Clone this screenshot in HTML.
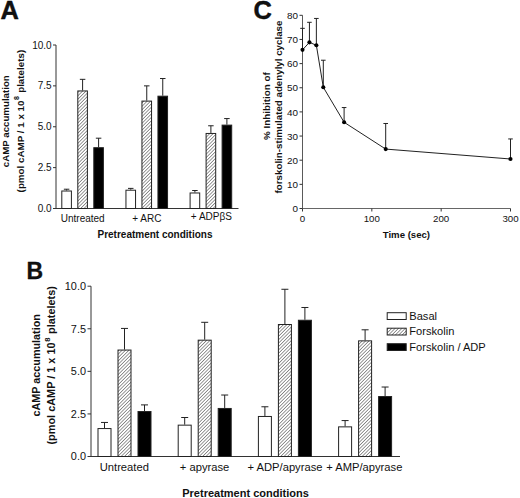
<!DOCTYPE html>
<html><head><meta charset="utf-8"><style>
html,body{margin:0;padding:0;background:#fff;}
svg{display:block;}
text{font-family:"Liberation Sans", sans-serif;fill:#111;}
</style></head><body>
<svg width="520" height="498" viewBox="0 0 520 498">
<defs>
<pattern id="hatch" patternUnits="userSpaceOnUse" width="2.4" height="2.4" patternTransform="rotate(45)">
<rect width="2.4" height="2.4" fill="#fff"/>
<line x1="0" y1="0" x2="0" y2="2.4" stroke="#333" stroke-width="1.0"/>
</pattern>
</defs>
<rect width="520" height="498" fill="#fff"/>
<line x1="56" y1="45" x2="56" y2="208.5" stroke="#333" stroke-width="1"/>
<line x1="56" y1="208.5" x2="238.5" y2="208.5" stroke="#333" stroke-width="1"/>
<line x1="53" y1="208.5" x2="56" y2="208.5" stroke="#333" stroke-width="1"/>
<text x="51.6" y="212.1" font-size="10" text-anchor="end" font-weight="normal" >0.0</text>
<line x1="53" y1="167.62" x2="56" y2="167.62" stroke="#333" stroke-width="1"/>
<text x="51.6" y="171.22" font-size="10" text-anchor="end" font-weight="normal" >2.5</text>
<line x1="53" y1="126.75" x2="56" y2="126.75" stroke="#333" stroke-width="1"/>
<text x="51.6" y="130.35" font-size="10" text-anchor="end" font-weight="normal" >5.0</text>
<line x1="53" y1="85.87" x2="56" y2="85.87" stroke="#333" stroke-width="1"/>
<text x="51.6" y="89.47" font-size="10" text-anchor="end" font-weight="normal" >7.5</text>
<line x1="53" y1="45" x2="56" y2="45" stroke="#333" stroke-width="1"/>
<text x="51.6" y="48.6" font-size="10" text-anchor="end" font-weight="normal" >10.0</text>
<line x1="66.6" y1="189.21" x2="66.6" y2="190.51" stroke="#222" stroke-width="1"/>
<line x1="63.85" y1="189.21" x2="69.35" y2="189.21" stroke="#222" stroke-width="1"/>
<rect x="61.8" y="191.01" width="9.6" height="17.49" fill="#fff" stroke="#222" stroke-width="1"/>
<line x1="82.6" y1="79.33" x2="82.6" y2="90.45" stroke="#222" stroke-width="1"/>
<line x1="79.85" y1="79.33" x2="85.35" y2="79.33" stroke="#222" stroke-width="1"/>
<rect x="77.8" y="90.95" width="9.6" height="117.55" fill="url(#hatch)" stroke="#222" stroke-width="1"/>
<line x1="98.6" y1="138.19" x2="98.6" y2="147.19" stroke="#222" stroke-width="1"/>
<line x1="95.85" y1="138.19" x2="101.35" y2="138.19" stroke="#222" stroke-width="1"/>
<rect x="93.8" y="147.69" width="9.6" height="60.81" fill="#000" stroke="#222" stroke-width="1"/>
<line x1="130.75" y1="188.39" x2="130.75" y2="189.7" stroke="#222" stroke-width="1"/>
<line x1="128" y1="188.39" x2="133.5" y2="188.39" stroke="#222" stroke-width="1"/>
<rect x="125.95" y="190.2" width="9.6" height="18.3" fill="#fff" stroke="#222" stroke-width="1"/>
<line x1="146.75" y1="85.87" x2="146.75" y2="100.59" stroke="#222" stroke-width="1"/>
<line x1="144" y1="85.87" x2="149.5" y2="85.87" stroke="#222" stroke-width="1"/>
<rect x="141.95" y="101.09" width="9.6" height="107.41" fill="url(#hatch)" stroke="#222" stroke-width="1"/>
<line x1="162.75" y1="78.52" x2="162.75" y2="95.68" stroke="#222" stroke-width="1"/>
<line x1="160" y1="78.52" x2="165.5" y2="78.52" stroke="#222" stroke-width="1"/>
<rect x="157.95" y="96.18" width="9.6" height="112.32" fill="#000" stroke="#222" stroke-width="1"/>
<line x1="194.9" y1="190.51" x2="194.9" y2="192.48" stroke="#222" stroke-width="1"/>
<line x1="192.15" y1="190.51" x2="197.65" y2="190.51" stroke="#222" stroke-width="1"/>
<rect x="190.1" y="192.98" width="9.6" height="15.52" fill="#fff" stroke="#222" stroke-width="1"/>
<line x1="210.9" y1="125.77" x2="210.9" y2="132.96" stroke="#222" stroke-width="1"/>
<line x1="208.15" y1="125.77" x2="213.65" y2="125.77" stroke="#222" stroke-width="1"/>
<rect x="206.1" y="133.46" width="9.6" height="75.04" fill="url(#hatch)" stroke="#222" stroke-width="1"/>
<line x1="226.9" y1="118.57" x2="226.9" y2="124.62" stroke="#222" stroke-width="1"/>
<line x1="224.15" y1="118.57" x2="229.65" y2="118.57" stroke="#222" stroke-width="1"/>
<rect x="222.1" y="125.12" width="9.6" height="83.38" fill="#000" stroke="#222" stroke-width="1"/>
<text x="82.7" y="221.5" font-size="10" text-anchor="middle" font-weight="normal" >Untreated</text>
<text x="146.8" y="221.5" font-size="10" text-anchor="middle" font-weight="normal" >+ ARC</text>
<text x="211.4" y="219.5" font-size="10" text-anchor="middle" font-weight="normal" >+ ADP&#946;S</text>
<text x="155" y="238" font-size="10" text-anchor="middle" font-weight="bold" >Pretreatment conditions</text>
<g transform="translate(8.8,121.2) rotate(-90)"><text x="0" y="0" font-size="9.7" font-weight="bold" text-anchor="middle">cAMP accumulation</text></g>
<g transform="translate(24.1,121.1) rotate(-90)"><text x="0" y="0" font-size="9.8" font-weight="bold" text-anchor="middle">(pmol cAMP / 1 x 10<tspan font-size="7" dy="-5.0" dx="0.5">8</tspan><tspan dy="5.0" dx="0.6"> platelets)</tspan></text></g>
<text x="0.6" y="18.9" font-size="25.4" text-anchor="start" font-weight="bold" stroke="#000" stroke-width="0.4">A</text>
<line x1="91" y1="286.2" x2="91" y2="456.5" stroke="#333" stroke-width="1"/>
<line x1="91" y1="456.5" x2="400" y2="456.5" stroke="#333" stroke-width="1"/>
<line x1="87.5" y1="456.5" x2="91" y2="456.5" stroke="#333" stroke-width="1"/>
<text x="86" y="460.4" font-size="10.9" text-anchor="end" font-weight="normal" >0.0</text>
<line x1="87.5" y1="413.93" x2="91" y2="413.93" stroke="#333" stroke-width="1"/>
<text x="86" y="417.82" font-size="10.9" text-anchor="end" font-weight="normal" >2.5</text>
<line x1="87.5" y1="371.35" x2="91" y2="371.35" stroke="#333" stroke-width="1"/>
<text x="86" y="375.25" font-size="10.9" text-anchor="end" font-weight="normal" >5.0</text>
<line x1="87.5" y1="328.77" x2="91" y2="328.77" stroke="#333" stroke-width="1"/>
<text x="86" y="332.67" font-size="10.9" text-anchor="end" font-weight="normal" >7.5</text>
<line x1="87.5" y1="286.2" x2="91" y2="286.2" stroke="#333" stroke-width="1"/>
<text x="86" y="290.1" font-size="10.9" text-anchor="end" font-weight="normal" >10.0</text>
<line x1="104.5" y1="422.44" x2="104.5" y2="428.06" stroke="#222" stroke-width="1"/>
<line x1="101" y1="422.44" x2="108" y2="422.44" stroke="#222" stroke-width="1"/>
<rect x="98" y="428.56" width="13" height="27.94" fill="#fff" stroke="#222" stroke-width="1"/>
<line x1="124.5" y1="328.43" x2="124.5" y2="349.55" stroke="#222" stroke-width="1"/>
<line x1="121" y1="328.43" x2="128" y2="328.43" stroke="#222" stroke-width="1"/>
<rect x="118" y="350.05" width="13" height="106.45" fill="url(#hatch)" stroke="#222" stroke-width="1"/>
<line x1="144.5" y1="404.9" x2="144.5" y2="411.03" stroke="#222" stroke-width="1"/>
<line x1="141" y1="404.9" x2="148" y2="404.9" stroke="#222" stroke-width="1"/>
<rect x="138" y="411.53" width="13" height="44.97" fill="#000" stroke="#222" stroke-width="1"/>
<line x1="184.7" y1="417.5" x2="184.7" y2="424.65" stroke="#222" stroke-width="1"/>
<line x1="181.2" y1="417.5" x2="188.2" y2="417.5" stroke="#222" stroke-width="1"/>
<rect x="178.2" y="425.15" width="13" height="31.35" fill="#fff" stroke="#222" stroke-width="1"/>
<line x1="204.7" y1="322.3" x2="204.7" y2="339.67" stroke="#222" stroke-width="1"/>
<line x1="201.2" y1="322.3" x2="208.2" y2="322.3" stroke="#222" stroke-width="1"/>
<rect x="198.2" y="340.17" width="13" height="116.33" fill="url(#hatch)" stroke="#222" stroke-width="1"/>
<line x1="224.7" y1="395.02" x2="224.7" y2="407.96" stroke="#222" stroke-width="1"/>
<line x1="221.2" y1="395.02" x2="228.2" y2="395.02" stroke="#222" stroke-width="1"/>
<rect x="218.2" y="408.46" width="13" height="48.04" fill="#000" stroke="#222" stroke-width="1"/>
<line x1="264.9" y1="406.77" x2="264.9" y2="415.97" stroke="#222" stroke-width="1"/>
<line x1="261.4" y1="406.77" x2="268.4" y2="406.77" stroke="#222" stroke-width="1"/>
<rect x="258.4" y="416.47" width="13" height="40.03" fill="#fff" stroke="#222" stroke-width="1"/>
<line x1="284.9" y1="289.27" x2="284.9" y2="324.01" stroke="#222" stroke-width="1"/>
<line x1="281.4" y1="289.27" x2="288.4" y2="289.27" stroke="#222" stroke-width="1"/>
<rect x="278.4" y="324.51" width="13" height="131.99" fill="url(#hatch)" stroke="#222" stroke-width="1"/>
<line x1="304.9" y1="307.49" x2="304.9" y2="319.75" stroke="#222" stroke-width="1"/>
<line x1="301.4" y1="307.49" x2="308.4" y2="307.49" stroke="#222" stroke-width="1"/>
<rect x="298.4" y="320.25" width="13" height="136.25" fill="#000" stroke="#222" stroke-width="1"/>
<line x1="345.1" y1="420.57" x2="345.1" y2="426.36" stroke="#222" stroke-width="1"/>
<line x1="341.6" y1="420.57" x2="348.6" y2="420.57" stroke="#222" stroke-width="1"/>
<rect x="338.6" y="426.86" width="13" height="29.64" fill="#fff" stroke="#222" stroke-width="1"/>
<line x1="365.1" y1="329.8" x2="365.1" y2="340.36" stroke="#222" stroke-width="1"/>
<line x1="361.6" y1="329.8" x2="368.6" y2="329.8" stroke="#222" stroke-width="1"/>
<rect x="358.6" y="340.86" width="13" height="115.64" fill="url(#hatch)" stroke="#222" stroke-width="1"/>
<line x1="385.1" y1="387.02" x2="385.1" y2="396.04" stroke="#222" stroke-width="1"/>
<line x1="381.6" y1="387.02" x2="388.6" y2="387.02" stroke="#222" stroke-width="1"/>
<rect x="378.6" y="396.54" width="13" height="59.96" fill="#000" stroke="#222" stroke-width="1"/>
<text x="124.3" y="470.6" font-size="11.2" text-anchor="middle" font-weight="normal" >Untreated</text>
<text x="204.6" y="470.6" font-size="11.2" text-anchor="middle" font-weight="normal" >+ apyrase</text>
<text x="285" y="470.6" font-size="11.2" text-anchor="middle" font-weight="normal" >+ ADP/apyrase</text>
<text x="364.3" y="470.6" font-size="11.2" text-anchor="middle" font-weight="normal" >+ AMP/apyrase</text>
<text x="245.5" y="496.5" font-size="11" text-anchor="middle" font-weight="bold" >Pretreatment conditions</text>
<g transform="translate(39.5,365.3) rotate(-90)"><text x="0" y="0" font-size="10.8" font-weight="bold" text-anchor="middle">cAMP accumulation</text></g>
<g transform="translate(55.1,365.3) rotate(-90)"><text x="0" y="0" font-size="10.9" font-weight="bold" text-anchor="middle">(pmol cAMP / 1 x 10<tspan font-size="7.6" dy="-5.5" dx="0.6">8</tspan><tspan dy="5.5" dx="0.7"> platelets)</tspan></text></g>
<text x="26.4" y="278.7" font-size="23" text-anchor="start" font-weight="bold" stroke="#000" stroke-width="0.3">B</text>
<rect x="387.2" y="312.7" width="19" height="6.8" fill="#fff" stroke="#222" stroke-width="1"/>
<text x="409.3" y="319.7" font-size="11.1" text-anchor="start" font-weight="normal" >Basal</text>
<rect x="387.2" y="328.2" width="19" height="6.8" fill="url(#hatch)" stroke="#222" stroke-width="1"/>
<text x="409.3" y="335.2" font-size="11.1" text-anchor="start" font-weight="normal" >Forskolin</text>
<rect x="387.2" y="343.7" width="19" height="6.8" fill="#000" stroke="#222" stroke-width="1"/>
<text x="409.3" y="350.7" font-size="11.1" text-anchor="start" font-weight="normal" >Forskolin / ADP</text>
<line x1="302.5" y1="15.3" x2="302.5" y2="208.5" stroke="#5a5a5a" stroke-width="1"/>
<line x1="302.5" y1="208.5" x2="510.5" y2="208.5" stroke="#666" stroke-width="1"/>
<line x1="299.5" y1="208.5" x2="302.5" y2="208.5" stroke="#333" stroke-width="1"/>
<text x="298.1" y="212.1" font-size="9.9" text-anchor="end" font-weight="normal" >0</text>
<line x1="299.5" y1="184.35" x2="302.5" y2="184.35" stroke="#333" stroke-width="1"/>
<text x="298.1" y="187.95" font-size="9.9" text-anchor="end" font-weight="normal" >10</text>
<line x1="299.5" y1="160.2" x2="302.5" y2="160.2" stroke="#333" stroke-width="1"/>
<text x="298.1" y="163.8" font-size="9.9" text-anchor="end" font-weight="normal" >20</text>
<line x1="299.5" y1="136.05" x2="302.5" y2="136.05" stroke="#333" stroke-width="1"/>
<text x="298.1" y="139.65" font-size="9.9" text-anchor="end" font-weight="normal" >30</text>
<line x1="299.5" y1="111.9" x2="302.5" y2="111.9" stroke="#333" stroke-width="1"/>
<text x="298.1" y="115.5" font-size="9.9" text-anchor="end" font-weight="normal" >40</text>
<line x1="299.5" y1="87.75" x2="302.5" y2="87.75" stroke="#333" stroke-width="1"/>
<text x="298.1" y="91.35" font-size="9.9" text-anchor="end" font-weight="normal" >50</text>
<line x1="299.5" y1="63.6" x2="302.5" y2="63.6" stroke="#333" stroke-width="1"/>
<text x="298.1" y="67.2" font-size="9.9" text-anchor="end" font-weight="normal" >60</text>
<line x1="299.5" y1="39.45" x2="302.5" y2="39.45" stroke="#333" stroke-width="1"/>
<text x="298.1" y="43.05" font-size="9.9" text-anchor="end" font-weight="normal" >70</text>
<line x1="299.5" y1="15.3" x2="302.5" y2="15.3" stroke="#333" stroke-width="1"/>
<text x="298.1" y="18.9" font-size="9.9" text-anchor="end" font-weight="normal" >80</text>
<line x1="302.5" y1="208.5" x2="302.5" y2="211.5" stroke="#333" stroke-width="1"/>
<text x="302.5" y="221.6" font-size="9.7" text-anchor="middle" font-weight="normal" >0</text>
<line x1="371.83" y1="208.5" x2="371.83" y2="211.5" stroke="#333" stroke-width="1"/>
<text x="371.83" y="221.6" font-size="9.7" text-anchor="middle" font-weight="normal" >100</text>
<line x1="441.17" y1="208.5" x2="441.17" y2="211.5" stroke="#333" stroke-width="1"/>
<text x="441.17" y="221.6" font-size="9.7" text-anchor="middle" font-weight="normal" >200</text>
<line x1="510.5" y1="208.5" x2="510.5" y2="211.5" stroke="#333" stroke-width="1"/>
<text x="510.5" y="221.6" font-size="9.7" text-anchor="middle" font-weight="normal" >300</text>
<line x1="302.5" y1="28.34" x2="302.5" y2="49.83" stroke="#222" stroke-width="1"/>
<line x1="300.2" y1="28.34" x2="304.8" y2="28.34" stroke="#222" stroke-width="1"/>
<line x1="309.43" y1="22.3" x2="309.43" y2="42.35" stroke="#222" stroke-width="1"/>
<line x1="307.13" y1="22.3" x2="311.73" y2="22.3" stroke="#222" stroke-width="1"/>
<line x1="316.37" y1="18.44" x2="316.37" y2="45.25" stroke="#222" stroke-width="1"/>
<line x1="314.07" y1="18.44" x2="318.67" y2="18.44" stroke="#222" stroke-width="1"/>
<line x1="323.3" y1="60.22" x2="323.3" y2="87.27" stroke="#222" stroke-width="1"/>
<line x1="321" y1="60.22" x2="325.6" y2="60.22" stroke="#222" stroke-width="1"/>
<line x1="344.1" y1="107.55" x2="344.1" y2="122.28" stroke="#222" stroke-width="1"/>
<line x1="341.8" y1="107.55" x2="346.4" y2="107.55" stroke="#222" stroke-width="1"/>
<line x1="385.7" y1="123.49" x2="385.7" y2="149.09" stroke="#222" stroke-width="1"/>
<line x1="383.4" y1="123.49" x2="388" y2="123.49" stroke="#222" stroke-width="1"/>
<line x1="510.5" y1="138.95" x2="510.5" y2="158.99" stroke="#222" stroke-width="1"/>
<line x1="508.2" y1="138.95" x2="512.8" y2="138.95" stroke="#222" stroke-width="1"/>
<path d="M302.5,49.83 L309.43,42.35 L316.37,45.25 L323.3,87.27 L344.1,122.28 L385.7,149.09 L510.5,158.99" fill="none" stroke="#222" stroke-width="1"/>
<circle cx="302.5" cy="49.83" r="2.05" fill="#000"/>
<circle cx="309.43" cy="42.35" r="2.05" fill="#000"/>
<circle cx="316.37" cy="45.25" r="2.05" fill="#000"/>
<circle cx="323.3" cy="87.27" r="2.05" fill="#000"/>
<circle cx="344.1" cy="122.28" r="2.05" fill="#000"/>
<circle cx="385.7" cy="149.09" r="2.05" fill="#000"/>
<circle cx="510.5" cy="158.99" r="2.05" fill="#000"/>
<text x="406.4" y="237.6" font-size="9.6" text-anchor="middle" font-weight="bold" >Time (sec)</text>
<g transform="translate(269.7,106.1) rotate(-90)"><text x="0" y="0" font-size="9.85" font-weight="bold" text-anchor="middle">% Inhibition of</text></g>
<g transform="translate(281.8,107) rotate(-90)"><text x="0" y="0" font-size="9.75" font-weight="bold" text-anchor="middle">forskolin-stimulated adenylyl cyclase</text></g>
<text x="253.6" y="18.9" font-size="25.4" text-anchor="start" font-weight="bold" stroke="#000" stroke-width="0.4">C</text>
</svg>
</body></html>
